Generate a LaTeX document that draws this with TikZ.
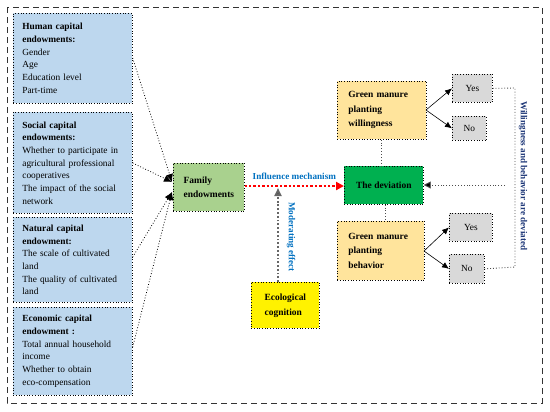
\documentclass[tikz,border=0pt]{standalone}
\usepackage{fontspec}
\setmainfont{Liberation Serif}
\usetikzlibrary{arrows.meta}
\definecolor{boxblue}{RGB}{189,215,238}
\definecolor{famgreen}{RGB}{169,209,142}
\definecolor{devgreen}{RGB}{0,176,80}
\definecolor{lightorange}{RGB}{255,228,156}
\definecolor{boxgray}{RGB}{217,217,217}
\definecolor{labelblue}{RGB}{0,112,192}
\definecolor{navy}{RGB}{31,56,120}
\tikzset{
  base/.style={draw=black, dotted, line width=0.7pt, inner sep=0pt, font=\fontsize{9.4}{12.7}\selectfont},
  capbox/.style={base, fill=boxblue, anchor=north west, minimum width=119bp, text width=101bp, align=left},
  smallbox/.style={base, fill=boxgray, anchor=north west, align=center},
  yellowbox/.style={base, fill=lightorange, anchor=north west, align=left, font=\bfseries\fontsize{9.5}{14.5}\selectfont},
  inarrow/.style={draw=black, dotted, line width=0.8pt, -{Latex[length=8bp,width=7bp]}},
  yesno/.style={draw=black, line width=0.6pt, -{Latex[length=7bp,width=6bp]}},
  link/.style={draw=black!70, dotted, line width=0.9pt},
  lbl/.style={font=\bfseries\fontsize{9.2}{11}\selectfont, inner sep=0pt}
}
\begin{document}
\begin{tikzpicture}[x=1bp,y=-1bp]
\useasboundingbox (0,0) rectangle (550,411);
\draw[dash pattern=on 6bp off 4bp, line width=0.9pt, black!80] (7,7) rectangle (542,403);
% left boxes
\node[capbox, minimum height=90bp] (human) at (13,13) {\textbf{Human capital}\\\textbf{endowments:}\\Gender\\Age\\Education level\\Part-time};
\node[capbox, minimum height=101bp] (social) at (13,112) {\textbf{Social capital}\\\textbf{endowments:}\\Whether to participate in\\agricultural professional\\cooperatives\\The impact of the social\\network};
\node[capbox, minimum height=85bp] (natural) at (13,217) {\textbf{Natural capital}\\\textbf{endowment:}\\The scale of cultivated\\land\\The quality of cultivated\\land};
\node[capbox, minimum height=88bp] (economic) at (13,307) {\textbf{Economic capital}\\\textbf{endowment :}\\Total annual household\\income\\Whether to obtain\\eco-compensation};
% family
\node[base, fill=famgreen, anchor=north west, minimum width=71bp, minimum height=48bp, align=left, font=\bfseries\fontsize{9.5}{14.5}\selectfont] (family) at (173,163) {Family\\endowments};
% ecological
\node[base, fill=yellow, anchor=north west, minimum width=68bp, minimum height=46bp, align=left, font=\bfseries\fontsize{9.5}{15}\selectfont] (eco) at (251,282) {Ecological\\cognition};
% deviation
\node[base, fill=devgreen, anchor=north west, minimum width=79bp, minimum height=38bp, font=\bfseries\fontsize{9.5}{11}\selectfont] (dev) at (344,166) {The deviation};
% willingness / behavior
\node[yellowbox, minimum width=89bp, minimum height=58bp, text width=67bp] (will) at (337,81) {Green manure\\planting\\willingness};
\node[yellowbox, minimum width=87bp, minimum height=59bp, text width=65bp] (beh) at (337,221) {Green manure\\planting\\behavior};
% yes/no
\node[smallbox, minimum width=40bp, minimum height=28bp] (yes1) at (452,74) {Yes};
\node[smallbox, minimum width=34bp, minimum height=24bp] (no1) at (452,116) {No};
\node[smallbox, minimum width=43bp, minimum height=28bp] (yes2) at (449,213) {Yes};
\node[smallbox, minimum width=35bp, minimum height=29bp] (no2) at (449,254) {No};
% arrows into family
\coordinate (fa) at (172,182);
\coordinate (fb) at (172,192);
\draw[inarrow] (human.east |- 0,58) -- (fa);
\draw[inarrow] (social.east |- 0,163) -- (fa);
\draw[inarrow] (natural.east |- 0,257) -- (fb);
\draw[inarrow] (economic.east |- 0,347) -- (fb);
% influence mechanism
\draw[red, dotted, line width=2.4pt, -{Triangle[length=8bp,width=8bp]}] (family.east |- 0,186) -- node[lbl, text=labelblue, above=5bp] {Influence mechanism} (dev.west |- 0,186);
% moderating
\draw[black!60, dotted, line width=1.8pt, -{Triangle[length=8bp,width=7bp, fill=black!70]}] (eco.north -| 278,0) -- (278,188);
\node[lbl, text=labelblue, rotate=-90] (modlbl) at (291,237) {Moderating effect};
% will/beh to deviation
\draw[link] (will.south -| 381,0) -- (dev.north -| 381,0);
\draw[link] (dev.south -| 385,0) -- (beh.north -| 385,0);
% yes/no arrows
\coordinate (wr) at (426,110);
\coordinate (br) at (424,251);
\draw[yesno] (wr) -- (yes1.west);
\draw[yesno] (wr) -- (no1.west);
\draw[yesno] (br) -- (yes2.west);
\draw[yesno] (br) -- (no2.west);
% feedback
\draw[link] (yes1.east) -- (515,88) -- (515,267) -- (no2.east);
\coordinate (fbstart) at (505,185);
\draw[link, -{Triangle[length=7bp,width=7bp, fill=black]}] (fbstart) -- (dev.east |- 0,185);
\node[lbl, text=navy, rotate=-90] (devlbl) at (523,176) {Willingness and behavior are deviated};
\end{tikzpicture}
\end{document}
